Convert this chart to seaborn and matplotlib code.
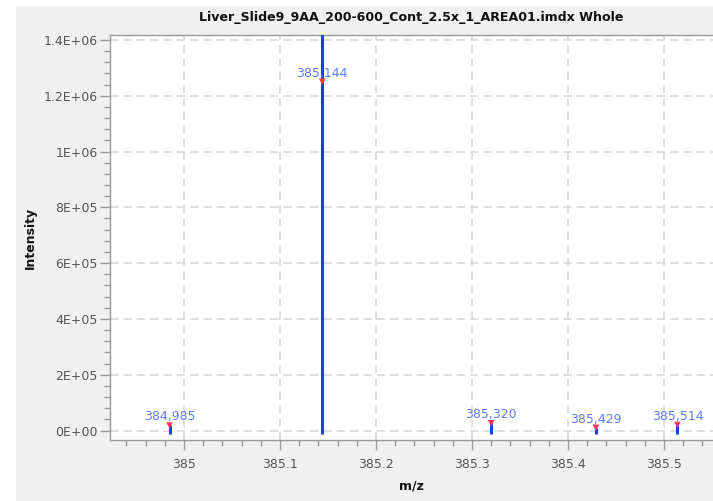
import numpy as np
import pandas as pd
import matplotlib
matplotlib.use('Agg')
import matplotlib.pyplot as plt
import seaborn as sns
from matplotlib.patches import Rectangle
from matplotlib.ticker import MultipleLocator, FuncFormatter

# --- data ---
title = 'Liver_Slide9_9AA_200-600_Cont_2.5x_1_AREA01.imdx Whole'
peak_mz = [384.985, 385.144, 385.320, 385.429, 385.514]
peak_intensity = [1.8e4, 1.25e6, 2.6e4, 1.0e4, 2.0e4]      # centroid (red marker)
profile_intensity = [1.8e4, 1.6e6, 2.6e4, 1.0e4, 2.0e4]    # blue stick top
peak_labels = ['384,985', '385,144', '385,320', '385,429', '385,514']
baseline = -1.2e4

df = pd.DataFrame({'mz': peak_mz, 'intensity': peak_intensity,
                   'profile': profile_intensity, 'label': peak_labels})

# --- style ---
sns.set_theme(style='whitegrid')
plt.rcParams['font.family'] = ['DejaVu Sans']

fig = plt.figure(figsize=(7.13, 5.01), dpi=100)
fig.patch.set_facecolor('white')
fig.patches.append(Rectangle((16 / 713, 0), 1, 1 - 6 / 501, transform=fig.transFigure,
                             facecolor='#f0f0f0', edgecolor='none', zorder=-10))

ax = fig.add_axes([110 / 713, 61 / 501, 603 / 713, 405 / 501])
ax.set_facecolor('white')

# sticks
ax.vlines(df['mz'], baseline, df['profile'], color='#1a3cff', lw=2.2, zorder=3)
# peak markers
sns.scatterplot(data=df, x='mz', y='intensity', marker='v', s=22, color='#ff3355',
                edgecolor='none', ax=ax, zorder=4, legend=False)
for _, r in df.iterrows():
    ax.annotate(r['label'], (r['mz'], r['intensity']), xytext=(0, 1.5),
                textcoords='offset points', ha='center', va='bottom',
                fontsize=9, color='#5b7cff', zorder=5)

ax.set_xlim(384.923, 385.551)
ax.set_ylim(-3.4e4, 1.4176e6)

ax.xaxis.set_major_locator(MultipleLocator(0.1))
ax.xaxis.set_minor_locator(MultipleLocator(0.02))
ax.yaxis.set_major_locator(MultipleLocator(2e5))
ax.yaxis.set_minor_locator(MultipleLocator(4e4))
ax.xaxis.set_major_formatter(FuncFormatter(lambda v, p: f'{v:g}'))


def sci(v, p):
    if abs(v) < 1:
        return '0E+00'
    e = int(np.floor(np.log10(abs(v))))
    m = v / 10 ** e
    return f'{m:g}E+{e:02d}'


ax.yaxis.set_major_formatter(FuncFormatter(sci))

ax.tick_params(axis='both', which='major', direction='out', length=7, width=1,
               color='#999999', labelsize=9, labelcolor='#555555', pad=6, bottom=True, left=True)
ax.tick_params(axis='both', which='minor', direction='out', length=4, width=1,
               color='#999999', bottom=True, left=True)
ax.tick_params(axis='y', which='major', pad=2)

ax.grid(True, which='major', linestyle=(0, (5, 3)), color='#d9d9d9', linewidth=1.2)
ax.grid(False, which='minor')
ax.set_axisbelow(True)

for s in ['left', 'bottom', 'top']:
    ax.spines[s].set_color('#999999')
    ax.spines[s].set_linewidth(1)
ax.spines['right'].set_visible(False)

ax.set_title(title, fontsize=9.1, fontweight='bold', color='#111111', pad=10)
ax.set_xlabel('m/z', fontsize=9, fontweight='bold', color='#111111', labelpad=6)
ax.set_ylabel('Intensity', fontsize=9, fontweight='bold', color='#111111')
ax.yaxis.set_label_coords(-0.122, 0.5)

fig.savefig('out.png', dpi=100)
